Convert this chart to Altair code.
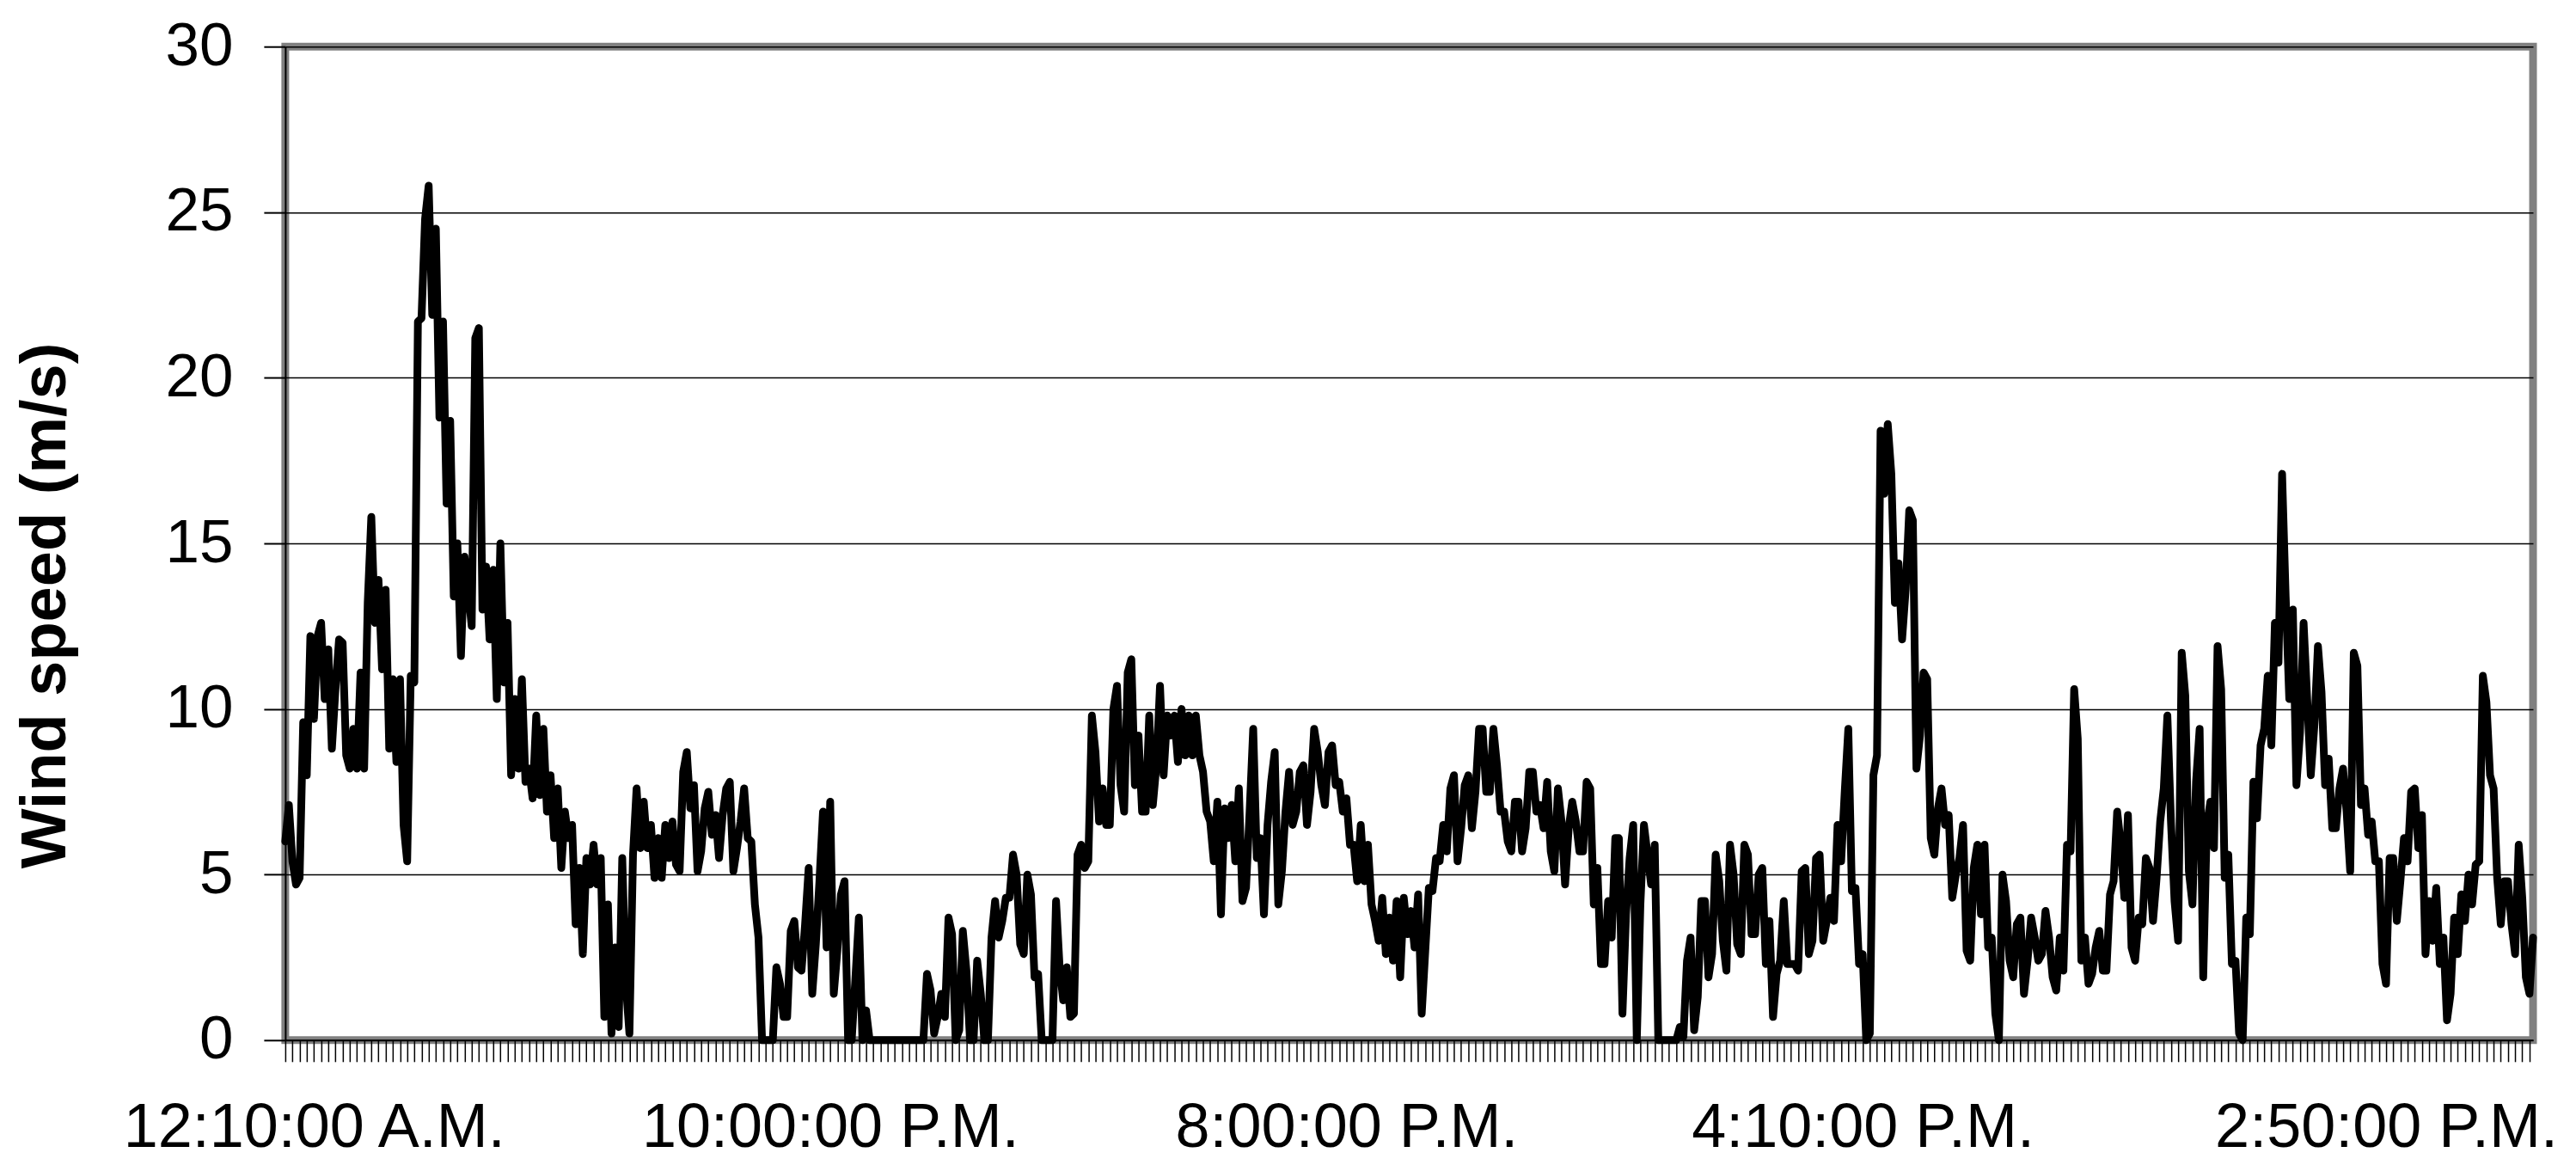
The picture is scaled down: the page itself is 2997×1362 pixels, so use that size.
import altair as alt
import pandas as pd

# Wind speed readings (m/s) in pairs per axis tick
seg1 = [6.0, 7.1, 5.4, 4.7, 4.9, 9.6, 8.0, 12.2, 9.7, 12.2, 12.6, 10.3, 11.8, 8.8, 10.6, 12.1,
        12.0, 8.6, 8.2, 9.4, 8.2, 11.1, 8.2, 13.2, 15.8, 12.6, 13.9, 11.2, 13.6, 8.8, 10.9, 8.4,
        10.9, 6.5, 5.4, 11.0, 10.8, 21.7, 21.8, 24.8, 25.8, 21.9, 24.5, 18.8, 21.7, 16.2, 18.7, 13.4,
        15.0, 11.6, 14.6, 13.6, 12.5, 21.2, 21.5, 13.0, 14.3, 12.1, 14.2, 10.3, 15.0, 10.8, 12.6, 8.0,
        10.3, 8.2, 10.9, 7.8, 8.2, 7.3, 9.8, 7.4, 9.4, 6.9, 8.0, 6.1, 7.6, 5.2, 6.9, 6.1,
        6.5, 3.5, 5.2, 2.6, 5.5, 4.7, 5.9, 4.7, 5.5, 0.7, 4.1, 0.2, 2.8, 0.4, 5.5, 1.7,
        0.2, 5.6, 7.6, 5.8, 7.2, 5.8, 6.5, 4.9, 6.1, 4.9, 6.5, 5.5]
seg2 = [6.6, 5.3, 5.1, 8.1, 8.7, 7.0, 7.7, 5.1, 5.7, 7.0, 7.5, 6.2, 6.8, 5.5, 6.8, 7.6,
        7.8, 5.1, 5.8, 6.6, 7.6, 6.1, 6.0, 4.1, 3.1, 0.0, 0.0, 0.0, 0.0, 2.2, 1.7, 0.7,
        0.7, 3.3, 3.6, 2.2, 2.1, 3.5, 5.2, 1.4, 2.9, 4.8, 6.9, 2.8, 7.2, 1.4, 2.7, 4.4,
        4.8, 0.0, 0.0, 1.8, 3.7, 0.0, 0.9, 0.0, 0.0, 0.0, 0.0, 0.0, 0.0, 0.0, 0.0, 0.0,
        0.0, 0.0, 0.0, 0.0, 0.0, 0.0, 0.0, 2.0, 1.5, 0.2, 0.7, 1.4, 0.7, 3.7, 3.2, 0.0,
        0.3, 3.3, 2.1, 0.0, 0.0, 2.4, 1.4, 0.0, 0.0, 3.1, 4.2, 3.1, 3.6, 4.3, 4.3, 5.6,
        5.0, 2.9, 2.6, 5.0, 4.4, 1.9, 2.0, 0.0, 0.0, 0.0]
seg3 = [0.0, 4.2, 2.2, 1.2, 2.2, 0.7, 0.8, 5.6, 5.9, 5.2, 5.4, 9.8, 8.7, 6.6, 7.6, 6.5,
        6.5, 10.0, 10.7, 7.7, 6.9, 11.1, 11.5, 7.7, 9.2, 6.9, 6.9, 9.8, 7.1, 8.3, 10.7, 8.0,
        9.8, 9.2, 9.8, 8.4, 10.0, 8.6, 9.8, 8.6, 9.8, 8.6, 8.1, 6.9, 6.6, 5.4, 7.2, 3.8,
        7.0, 6.1, 7.1, 5.4, 7.6, 4.2, 4.6, 6.9, 9.4, 5.5, 6.1, 3.8, 6.5, 7.8, 8.7, 4.1,
        5.1, 6.9, 8.1, 6.5, 6.9, 8.1, 8.3, 6.5, 7.5, 9.4, 8.7, 7.7, 7.1, 8.7, 8.9, 7.7,
        7.8, 6.9, 7.3, 5.9, 5.9, 4.8, 6.5, 4.8, 5.9, 4.1, 3.6, 3.0, 4.3, 2.6, 3.7, 2.4,
        4.2, 1.9, 4.3, 3.2, 3.9, 2.8]
seg4 = [4.4, 0.8, 2.7, 4.6, 4.5, 5.5, 5.4, 6.5, 5.7, 7.6, 8.0, 5.4, 6.4, 7.7, 8.0, 6.4,
        7.5, 9.4, 9.4, 7.5, 7.5, 9.4, 8.3, 6.9, 6.9, 6.0, 5.7, 7.2, 7.2, 5.7, 6.4, 8.1,
        8.1, 6.9, 7.1, 6.4, 7.8, 5.7, 5.1, 7.6, 6.6, 4.7, 6.4, 7.2, 6.6, 5.7, 5.7, 7.8,
        7.6, 4.1, 5.2, 2.3, 2.3, 4.2, 3.1, 6.1, 6.1, 0.8, 3.8, 5.5, 6.5, 0.0, 4.1, 6.5,
        5.6, 4.7, 5.9, 0.0, 0.0, 0.0, 0.0, 0.0, 0.0, 0.4, 0.1, 2.4, 3.1, 0.3, 1.3, 4.2,
        4.2, 1.9, 2.6, 5.6, 4.8, 3.0, 2.1, 5.9, 5.0, 2.9, 2.6, 5.9, 5.6, 3.2, 3.2, 5.0,
        5.2, 2.3, 3.6, 0.7, 2.0, 2.4, 4.2, 2.3, 2.3, 2.3]
seg5 = [2.1, 5.1, 5.2, 2.6, 3.0, 5.5, 5.6, 3.0, 3.6, 4.3, 3.6, 6.5, 5.4, 7.5, 9.4, 4.5,
        4.6, 2.3, 2.6, 0.0, 0.2, 8.0, 8.6, 18.4, 16.5, 18.6, 17.1, 13.2, 14.4, 12.1, 13.6, 16.0,
        15.7, 8.2, 9.2, 11.1, 10.9, 6.1, 5.6, 7.0, 7.6, 6.5, 6.8, 4.3, 5.0, 5.5, 6.5, 2.7,
        2.4, 5.2, 5.9, 3.8, 5.9, 2.8, 3.1, 0.8, 0.0, 5.0, 4.2, 2.4, 1.9, 3.5, 3.7, 1.4,
        2.4, 3.7, 3.1, 2.4, 2.6, 3.9, 3.1, 1.9, 1.5, 3.1, 2.1, 5.9, 5.7, 10.6, 9.1, 2.4,
        3.1, 1.7, 2.0, 2.8, 3.3, 2.1, 2.1, 4.4, 4.8, 6.9, 5.9, 4.3, 6.8, 2.8, 2.4, 3.7,
        3.5, 5.5, 5.2, 3.6, 4.9, 6.6, 7.6, 9.8, 6.6, 4.2]
seg6 = [3.0, 11.7, 10.4, 5.1, 4.1, 7.8, 9.4, 1.9, 6.5, 7.2, 5.8, 11.9, 10.6, 4.9, 5.6, 2.3,
        2.4, 0.2, 0.0, 3.7, 3.2, 7.8, 6.7, 8.9, 9.4, 11.0, 8.9, 12.6, 11.4, 17.1, 13.4, 10.3,
        13.0, 7.7, 9.3, 12.6, 10.3, 8.0, 9.5, 11.9, 10.5, 7.7, 8.5, 6.4, 6.4, 7.6, 8.2, 6.9,
        5.1, 11.7, 11.3, 7.1, 7.6, 6.2, 6.6, 5.4, 5.4, 2.3, 1.7, 5.5, 5.5, 3.6, 4.8, 6.1,
        5.4, 7.5, 7.6, 5.8, 6.8, 2.6, 4.2, 3.0, 4.6, 2.3, 3.1, 0.6, 1.4, 3.7, 2.6, 4.4,
        3.6, 5.0, 4.1, 5.3, 5.4, 11.0, 10.2, 8.0, 7.6, 4.9, 3.5, 4.8, 4.8, 3.5, 2.6, 5.9,
        4.3, 1.9, 1.4, 3.1]

label_pos = [8, 152, 296, 440, 586]
label_text = ["12:10:00 A.M.", "10:00:00 P.M.", "8:00:00 P.M.", "4:10:00 P.M.", "2:50:00 P.M."]
y_ticks = [0, 5, 10, 15, 20, 25, 30]

speeds = seg1 + seg2 + seg3 + seg4 + seg5 + seg6
n = len(speeds)
df = pd.DataFrame({"i": list(range(n)), "speed": speeds})

tick_vals = list(range(0, n, 2))
expr = "''"
for p, t in reversed(list(zip(label_pos, label_text))):
    expr = f"datum.value == {p} ? '{t}' : ({expr})"

FONT = "Liberation Sans, Arial, sans-serif"

chart = alt.Chart(df).mark_line(
    color="black", strokeWidth=9, strokeJoin="round", strokeCap="round"
).encode(
    x=alt.X("i:Q",
            scale=alt.Scale(domain=[0, n - 1], nice=False, zero=False),
            axis=alt.Axis(values=tick_vals, labelExpr=expr, title=None, grid=False,
                          tickSize=25, tickColor="black", tickWidth=1.5,
                          domainColor="black", domainWidth=2,
                          labelFontSize=72, labelFont=FONT, labelColor="black",
                          labelPadding=42, labelOverlap=False, labelFlush=False,
                          labelBound=False, labelLimit=1000)),
    y=alt.Y("speed:Q",
            scale=alt.Scale(domain=[0, 30], nice=False),
            axis=alt.Axis(values=y_ticks, title="Wind speed (m/s)",
                          titleX=-278, titleY=650, titleAngle=270,
                          titleAlign="center", titleBaseline="middle",
                          titleFontSize=74, titleFontWeight="bold", titleFont=FONT,
                          titleColor="black", titleLimit=2000,
                          labelFontSize=71, labelFont=FONT, labelColor="black",
                          labelPadding=36, tickSize=25, tickColor="black", tickWidth=2,
                          domainColor="black", domainWidth=2,
                          grid=True, gridColor="black", gridWidth=1.5, gridOpacity=1)),
).properties(
    width=2616, height=1156,
    autosize=alt.AutoSizeParams(type="none"),
    padding={"left": 324, "top": 46, "right": 42, "bottom": 141},
).configure_view(stroke="#808080", strokeWidth=9)

chart.save("out.html", embed_options={"renderer": "svg", "actions": False})
